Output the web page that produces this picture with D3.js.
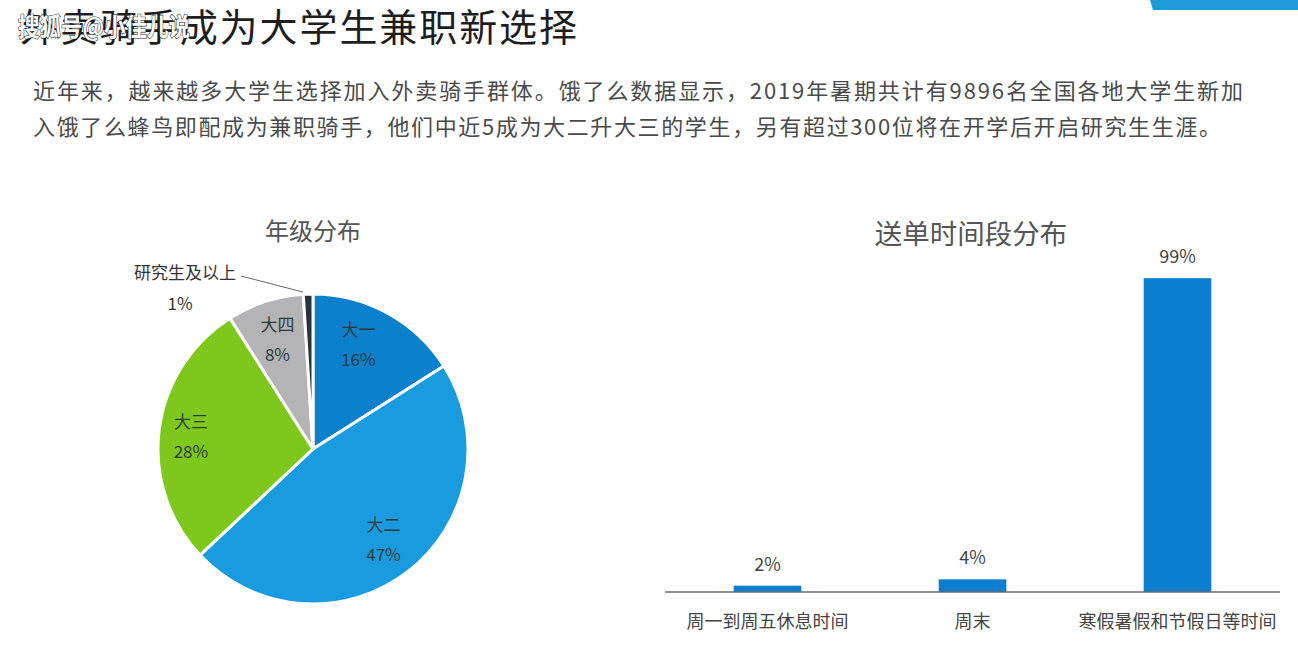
<!DOCTYPE html>
<html><head><meta charset="utf-8">
<script src="https://cdn.jsdelivr.net/npm/d3@7"></script>
<style>html,body{margin:0;padding:0;background:#fff;}svg{display:block;}</style>
</head><body>
<svg id="chart" width="1298" height="662"></svg>
<script>
const titleText = "外卖骑手成为大学生兼职新选择";
const watermark = "搜狐号@小佳儿说";
const paraLines = [
  "近年来，越来越多大学生选择加入外卖骑手群体。饿了么数据显示，2019年暑期共计有9896名全国各地大学生新加",
  "入饿了么蜂鸟即配成为兼职骑手，他们中近5成为大二升大三的学生，另有超过300位将在开学后开启研究生生涯。"
];
const pieTitle = "年级分布";
const pieLabels = ["大一", "大二", "大三", "大四", "研究生及以上"];
const pieValues = [16, 47, 28, 8, 1];
const pieColors = ["#0b80cd", "#1a9be0", "#7ec81e", "#b4b4b6", "#28323e"];

const barTitle = "送单时间段分布";
const barCategories = ["周一到周五休息时间", "周末", "寒假暑假和节假日等时间"];
const barValues = [2, 4, 99];

const svg = d3.select("#chart");
const font = "'Noto Sans CJK SC', 'Noto Sans', sans-serif";

// top-right decoration
svg.append("path").attr("d", "M1150,0 L1298,0 L1298,10 L1153,10 Z").attr("fill", "#1e9ad9");

// title
svg.append("text").attr("x", 20).attr("y", 41).attr("font-family", font)
  .attr("font-size", 38).attr("fill", "#1e1e1e").attr("textLength", 557)
  .attr("lengthAdjust", "spacing").text(titleText);
// watermark
svg.append("text").attr("x", 18).attr("y", 36).attr("font-family", font)
  .attr("font-size", 25).attr("font-weight", "bold").attr("fill", "#fff")
  .attr("stroke", "#222").attr("stroke-width", 1.2).attr("paint-order", "stroke")
  .attr("textLength", 172).attr("lengthAdjust", "spacingAndGlyphs").text(watermark);

// paragraph
const paraW = [1210, 1188];
paraLines.forEach((t, i) => {
  svg.append("text").attr("x", 33).attr("y", 99 + i * 36).attr("font-family", font)
    .attr("font-size", 22).attr("fill", "#4a4a4a").attr("textLength", paraW[i])
    .attr("lengthAdjust", "spacing").text(t);
});

// ---- Pie ----
const cx = 313, cy = 449, R = 155;
svg.append("text").attr("x", cx).attr("y", 240).attr("text-anchor", "middle")
  .attr("font-family", font).attr("font-size", 24).attr("fill", "#555").text(pieTitle);

const pie = d3.pie().sort(null).value(d => d)(pieValues);
const arc = d3.arc().innerRadius(0).outerRadius(R);
const labelArc = d3.arc().innerRadius(115).outerRadius(115);
const gp = svg.append("g").attr("transform", `translate(${cx},${cy})`);
gp.selectAll("path").data(pie).join("path")
  .attr("d", arc).attr("fill", (d, i) => pieColors[i])
  .attr("stroke", "#fff").attr("stroke-width", 3).attr("stroke-linejoin", "round");

const nudges = [[-10, -3], [0, 0], [-8, 2], [0, 0]];
pie.slice(0, 4).forEach((d, i) => {
  const c = labelArc.centroid(d);
  const x = c[0] + nudges[i][0], y = c[1] + nudges[i][1];
  const g = gp.append("g").attr("font-family", font).attr("font-size", 17)
    .attr("fill", "#2e3a3a").attr("text-anchor", "middle");
  g.append("text").attr("x", x).attr("y", y - 9).text(pieLabels[i]);
  g.append("text").attr("x", x).attr("y", y + 21).text(pieValues[i] + "%");
});
// small slice label with leader line
{
  const d = pie[4];
  const p1 = d3.arc().innerRadius(R + 2).outerRadius(R + 2).centroid(d);
  gp.append("path").attr("d", `M${p1[0] - 5},${p1[1]} L${-72},${-173}`)
    .attr("stroke", "#666").attr("stroke-width", 1).attr("fill", "none");
  const g = gp.append("g").attr("font-family", font).attr("font-size", 17).attr("fill", "#333");
  g.append("text").attr("x", -77).attr("y", -170).attr("text-anchor", "end").text(pieLabels[4]);
  g.append("text").attr("x", -133).attr("y", -139).attr("text-anchor", "middle").text(pieValues[4] + "%");
}

// ---- Bars ----
svg.append("text").attr("x", 971).attr("y", 244).attr("text-anchor", "middle")
  .attr("font-family", font).attr("font-size", 27.5).attr("fill", "#555").text(barTitle);

const x = d3.scaleBand().domain(barCategories).range([665, 1280]).paddingInner(0.67).paddingOuter(0.335);
const y = d3.scaleLinear().domain([0, 100]).range([592, 275]);

svg.append("g").selectAll("rect").data(barValues).join("rect")
  .attr("x", (d, i) => x(barCategories[i])).attr("width", x.bandwidth())
  .attr("y", d => y(d)).attr("height", d => y(0) - y(d)).attr("fill", "#0b7fcd");

svg.append("g").selectAll("text").data(barValues).join("text")
  .attr("x", (d, i) => x(barCategories[i]) + x.bandwidth() / 2)
  .attr("y", d => y(d) - 15).attr("text-anchor", "middle")
  .attr("font-family", font).attr("font-size", 18).attr("fill", "#444").text(d => d + "%");

const axis = svg.append("g").attr("transform", `translate(0,${y(0)})`)
  .call(d3.axisBottom(x).tickSize(0).tickPadding(23));
axis.select(".domain").attr("stroke", "#6b6b6b").attr("stroke-width", 1.5).attr("d", "M665,0H1280");
axis.selectAll("text").attr("font-family", font).attr("font-size", 18).attr("fill", "#444");
</script>
</body></html>
